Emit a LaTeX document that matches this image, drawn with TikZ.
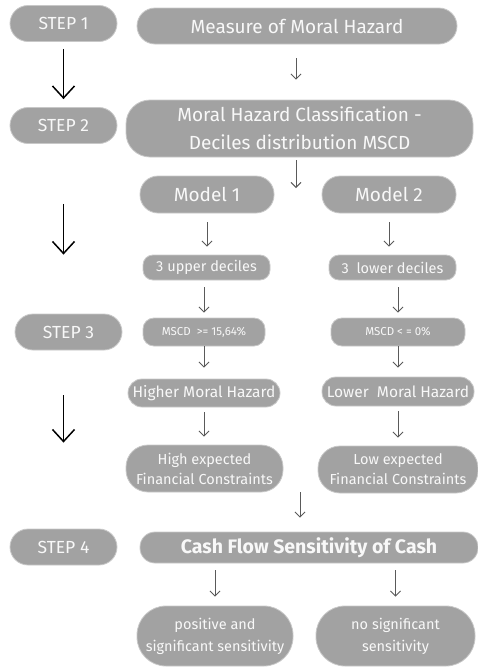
\documentclass[tikz,border=0pt]{standalone}
\usepackage{fontspec}
\setmainfont{Fira Sans}
\usetikzlibrary{arrows.meta}
\definecolor{boxgray}{HTML}{A2A2A2}
\definecolor{boxedge}{HTML}{C8C8C8}
\definecolor{boxtext}{HTML}{F8F8F8}
\definecolor{thinarrow}{HTML}{5A5A5A}

\begin{document}
\begin{tikzpicture}[
  x=1pt, y=-1pt,
  stagebox/.style={
    draw=boxedge,
    fill=boxgray,
    line width=0.8pt,
    text=boxtext,
    align=center,
    inner sep=0pt
  },
  steplabel/.style={stagebox, minimum width=107pt, minimum height=36pt, rounded corners=18pt, font=\fontsize{17.5}{20}\selectfont},
  bigstage/.style={stagebox, font=\fontsize{19}{28}\selectfont},
  midstage/.style={stagebox, font=\fontsize{15.5}{20}\selectfont},
  smallstage/.style={stagebox, font=\fontsize{11.5}{14}\selectfont},
  flowarrow/.style={
    -{Straight Barb[length=5pt,width=10pt]},
    line width=0.9pt,
    draw=thinarrow
  },
  steparrow/.style={
    -{Straight Barb[length=12pt,width=22pt]},
    line width=1.5pt,
    draw=black
  }
]
  \useasboundingbox (0,0) rectangle (478,667);

  % --- STEP LABELS (left column) ---
  \node[steplabel] (s1) at (63.5,23.5) {STEP 1};
  \node[steplabel] (s2) at (63.5,125.5) {STEP 2};
  \node[steplabel] (s3) at (68.5,332) {STEP 3};
  \node[steplabel] (s4) at (63.5,547) {STEP 4};

  % --- STEP 1 and 2 ---
  \node[bigstage, minimum width=320pt, minimum height=36pt, rounded corners=18pt] (measure) at (297,26) {Measure of Moral Hazard};
  \node[bigstage, minimum width=347pt, minimum height=57pt, rounded corners=24pt] (classif) at (299.5,128.5) {Moral Hazard Classification -\\Deciles distribution MSCD};

  % --- STEP 3: two models ---
  \node[bigstage, minimum width=134pt, minimum height=37pt, rounded corners=18pt] (model1) at (207,194.5) {Model 1};
  \node[bigstage, minimum width=134pt, minimum height=37pt, rounded corners=18pt] (model2) at (389,194.5) {Model 2};

  \node[midstage, font=\fontsize{14.5}{18}\selectfont, minimum width=127pt, minimum height=25pt, rounded corners=10pt] (upper) at (206.5,267.5) {3 upper deciles};
  \node[midstage, font=\fontsize{14.5}{18}\selectfont, minimum width=127pt, minimum height=25pt, rounded corners=10pt] (lower) at (392.5,267.5) {3\ \ lower deciles};

  \node[smallstage, minimum width=122pt, minimum height=28pt, rounded corners=11pt] (mscdhi) at (204,332) {MSCD\ \ >= 15,64\%};
  \node[smallstage, minimum width=134pt, minimum height=28pt, rounded corners=11pt] (mscdlo) at (398,332) {MSCD < = 0\%};

  \node[midstage, minimum width=152pt, minimum height=28pt, rounded corners=14pt] (highmh) at (204,393) {Higher Moral Hazard};
  \node[midstage, minimum width=152pt, minimum height=29pt, rounded corners=14pt] (lowmh) at (398,391.5) {Lower\ \ Moral Hazard};

  \node[midstage, font=\fontsize{14.5}{20}\selectfont, minimum width=157pt, minimum height=47pt, rounded corners=22pt] (highfc) at (204.5,468.5) {High expected\\Financial Constraints};
  \node[midstage, font=\fontsize{14.5}{20}\selectfont, minimum width=160pt, minimum height=47pt, rounded corners=22pt] (lowfc) at (398,469.5) {Low expected\\Financial Constraints};

  % --- STEP 4 ---
  \node[bigstage, font=\fontsize{19.5}{22}\selectfont\bfseries, minimum width=338pt, minimum height=31pt, rounded corners=15pt] (cashflow) at (309,547.5) {Cash Flow Sensitivity of Cash};

  \node[stagebox, font=\fontsize{14.5}{22}\selectfont, minimum width=156pt, minimum height=60pt, rounded corners=29pt] (possens) at (215,636) {positive and\\significant sensitivity};
  \node[stagebox, font=\fontsize{14.5}{22}\selectfont, minimum width=159pt, minimum height=60pt, rounded corners=29pt] (nosens) at (395.5,636) {no significant\\sensitivity};

  \coordinate (split) at (296,188);
  \coordinate (join) at (300,492);

  % Big step arrows
  \draw[steparrow, shorten <=7pt, shorten >=8pt] (s1.south) -- (s1.south |- s2.north);
  \draw[steparrow, shorten <=60pt, shorten >=59pt] (s2.south) -- (s2.south |- s3.north);
  \draw[steparrow, shorten <=45pt, shorten >=86pt] (s1.south |- s3.south) -- (s1.south |- s4.north);

  % Flow arrows
  \draw[flowarrow, shorten <=14pt, shorten >=20pt] (split |- measure.south) -- (split |- classif.north);
  \draw[flowarrow, shorten <=3pt] (split |- classif.south) -- (split);
  \draw[flowarrow, shorten <=9pt, shorten >=8pt] (model1.south) -- (model1.south |- upper.north);
  \draw[flowarrow, shorten <=9pt, shorten >=8pt] (model2.south) -- (model2.south |- lower.north);
  \draw[flowarrow, shorten <=7pt, shorten >=5pt] (mscdhi.north |- upper.south) -- (mscdhi.north);
  \draw[flowarrow, shorten <=7pt, shorten >=5pt] (mscdlo.north |- lower.south) -- (mscdlo.north);
  \draw[flowarrow, shorten >=11pt] (mscdhi.south) -- (mscdhi.south |- highmh.north);
  \draw[flowarrow, shorten >=9pt] (mscdlo.south) -- (mscdlo.south |- lowmh.north);
  \draw[flowarrow, shorten <=5pt, shorten >=8pt] (highmh.south) -- (highmh.south |- highfc.north);
  \draw[flowarrow, shorten <=5pt, shorten >=8pt] (lowmh.south) -- (lowmh.south |- lowfc.north);
  \draw[flowarrow, shorten >=14pt] (join) -- (join |- cashflow.north);
  \draw[flowarrow, shorten <=7pt, shorten >=9pt] (possens.north |- cashflow.south) -- (possens.north);
  \draw[flowarrow, shorten <=7pt, shorten >=9pt] (nosens.north |- cashflow.south) -- (nosens.north);
\end{tikzpicture}
\end{document}
